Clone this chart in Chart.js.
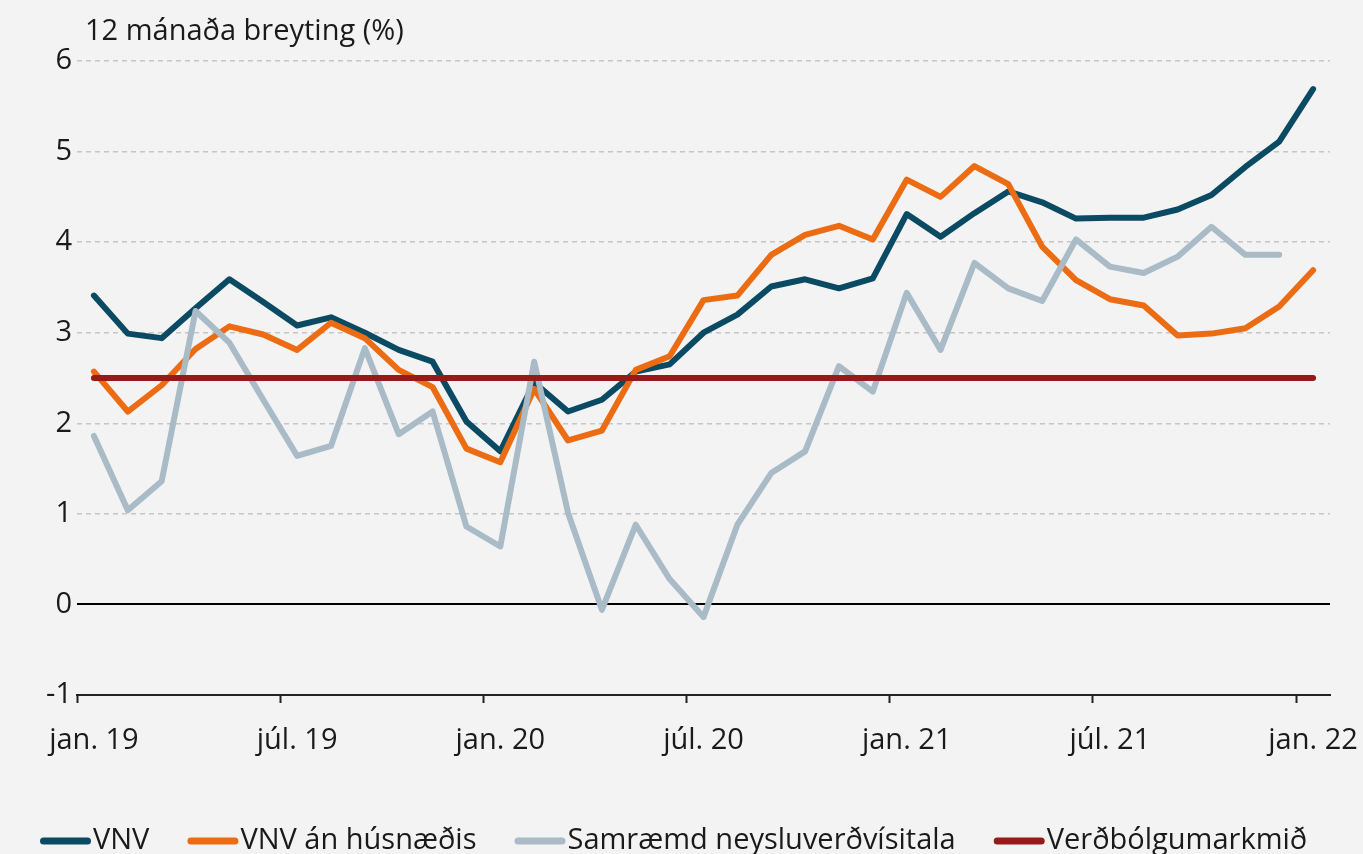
<!DOCTYPE html>
<html>
<head>
<meta charset="utf-8">
<script src="https://cdn.jsdelivr.net/npm/chart.js@4.4.1/dist/chart.umd.min.js"></script>
<style>
  html, body { margin: 0; padding: 0; background: #f3f3f3; overflow: hidden; }
  canvas { display: block; }
</style>
</head>
<body>
<canvas id="chart" width="1363" height="854"></canvas>
<script>
"use strict";

// Months, jan. 2019 - jan. 2022
const labels = [
    'jan. 19', 'feb. 19', 'mar. 19', 'apr. 19', 'maí 19', 'jún. 19',
    'júl. 19', 'ágú. 19', 'sep. 19', 'okt. 19', 'nóv. 19', 'des. 19',
    'jan. 20', 'feb. 20', 'mar. 20', 'apr. 20', 'maí 20', 'jún. 20',
    'júl. 20', 'ágú. 20', 'sep. 20', 'okt. 20', 'nóv. 20', 'des. 20',
    'jan. 21', 'feb. 21', 'mar. 21', 'apr. 21', 'maí 21', 'jún. 21',
    'júl. 21', 'ágú. 21', 'sep. 21', 'okt. 21', 'nóv. 21', 'des. 21',
    'jan. 22'
];

const vnv = [
    3.41, 2.99, 2.94, 3.27, 3.59, 3.34, 3.08, 3.17, 3.00, 2.81, 2.68, 2.02,
    1.69, 2.45, 2.13, 2.26, 2.57, 2.65, 3.00, 3.20, 3.51, 3.59, 3.49, 3.60,
    4.31, 4.06, 4.32, 4.56, 4.44, 4.26, 4.27, 4.27, 4.36, 4.52, 4.83, 5.11,
    5.69
];

const vnvAnHusnaedis = [
    2.57, 2.13, 2.42, 2.82, 3.07, 2.98, 2.81, 3.11, 2.94, 2.59, 2.40, 1.72,
    1.57, 2.38, 1.81, 1.92, 2.59, 2.74, 3.36, 3.41, 3.86, 4.08, 4.18, 4.03,
    4.69, 4.50, 4.84, 4.64, 3.95, 3.58, 3.37, 3.30, 2.97, 2.99, 3.05, 3.29,
    3.69
];

const samraemd = [
    1.86, 1.04, 1.36, 3.24, 2.89, 2.26, 1.64, 1.75, 2.83, 1.88, 2.13, 0.86,
    0.64, 2.68, 1.01, -0.06, 0.88, 0.28, -0.14, 0.88, 1.45, 1.69, 2.63, 2.35,
    3.44, 2.81, 3.77, 3.49, 3.35, 4.03, 3.73, 3.66, 3.84, 4.17, 3.86, 3.86,
    null
];

const markmid = [
    2.5, 2.5, 2.5, 2.5, 2.5, 2.5, 2.5, 2.5, 2.5, 2.5, 2.5, 2.5,
    2.5, 2.5, 2.5, 2.5, 2.5, 2.5, 2.5, 2.5, 2.5, 2.5, 2.5, 2.5,
    2.5, 2.5, 2.5, 2.5, 2.5, 2.5, 2.5, 2.5, 2.5, 2.5, 2.5, 2.5,
    2.5
];

const FONT = "'Open Sans', 'Noto Sans', sans-serif";
const SIZE = 29;
const TEXT = '#1a1a1a';

// Light grey background, axis caption top left, and an Excel-like legend
// (swatch right against the text) along the bottom edge
const decor = {
    id: 'decor',
    beforeDraw(chart) {
        const ctx = chart.ctx;
        ctx.save();
        ctx.fillStyle = '#f3f3f3';
        ctx.fillRect(0, 0, chart.width, chart.height);
        ctx.restore();
    },
    afterDraw(chart) {
        const ctx = chart.ctx;
        ctx.save();
        ctx.font = SIZE + 'px ' + FONT;
        ctx.fillStyle = TEXT;
        ctx.textBaseline = 'middle';
        ctx.fillText('12 mánaða breyting (%)', 85, 32);

        // legend
        const y = 841;
        let x = 40;
        chart.data.datasets.forEach(ds => {
            ctx.strokeStyle = ds.borderColor;
            ctx.lineWidth = 7;
            ctx.lineCap = 'round';
            ctx.beginPath();
            ctx.moveTo(x + 3.5, y);
            ctx.lineTo(x + 47.5, y);
            ctx.stroke();
            x += 53;
            ctx.fillStyle = TEXT;
            ctx.fillText(ds.label, x, y);
            x += ctx.measureText(ds.label).width + 38;
        });
        ctx.restore();
    }
};

const line = (label, data, color, order) => ({
    label: label,
    data: data,
    borderColor: color,
    backgroundColor: color,
    borderWidth: 6,
    pointRadius: 0,
    tension: 0,
    borderCapStyle: 'round',
    borderJoinStyle: 'round',
    order: order
});

new Chart(document.getElementById('chart'), {
    type: 'line',
    data: {
        labels: labels,
        datasets: [
            line('VNV', vnv, '#0b4a63', 4),
            line('VNV án húsnæðis', vnvAnHusnaedis, '#ec6c13', 3),
            line('Samræmd neysluverðvísitala', samraemd, '#a8bbc6', 2),
            line('Verðbólgumarkmið', markmid, '#971a1a', 1)
        ]
    },
    options: {
        responsive: false,
        animation: false,
        layout: {
            padding: { top: 61, right: 33, left: 0, bottom: 53 }
        },
        scales: {
            x: {
                offset: true,
                afterFit: s => {
                    s.height = 106;
                    // let the end labels hang over the padding
                    s.paddingLeft = 0;
                    s.paddingRight = 0;
                },
                grid: {
                    offset: true,
                    drawOnChartArea: false,
                    drawTicks: true,
                    tickLength: 8,
                    tickWidth: 2,
                    tickColor: ctx => ctx.index % 6 === 0 ? '#222' : 'rgba(0,0,0,0)'
                },
                border: { color: '#222', width: 2 },
                ticks: {
                    autoSkip: false,
                    maxRotation: 0,
                    padding: 20,
                    color: TEXT,
                    font: { family: FONT, size: SIZE },
                    callback: (v, i) => i % 6 === 0 ? labels[i] : ''
                }
            },
            y: {
                min: -1,
                max: 6,
                afterFit: s => { s.width = 77; },
                ticks: {
                    stepSize: 1,
                    padding: 5,
                    color: TEXT,
                    font: { family: FONT, size: SIZE }
                },
                grid: {
                    drawTicks: false,
                    color: ctx => {
                        const v = ctx.tick ? ctx.tick.value : null;
                        if (v === 0) return '#000';
                        if (v === -1) return 'rgba(0,0,0,0)';
                        return '#c6c6c6';
                    },
                    lineWidth: ctx => (ctx.tick && ctx.tick.value === 0) ? 2 : 1.5
                },
                border: {
                    display: false,
                    dash: ctx => (ctx.tick && ctx.tick.value === 0) ? [] : [5, 4]
                }
            }
        },
        plugins: {
            legend: { display: false },
            tooltip: { enabled: false }
        }
    },
    plugins: [decor]
});
</script>
</body>
</html>
